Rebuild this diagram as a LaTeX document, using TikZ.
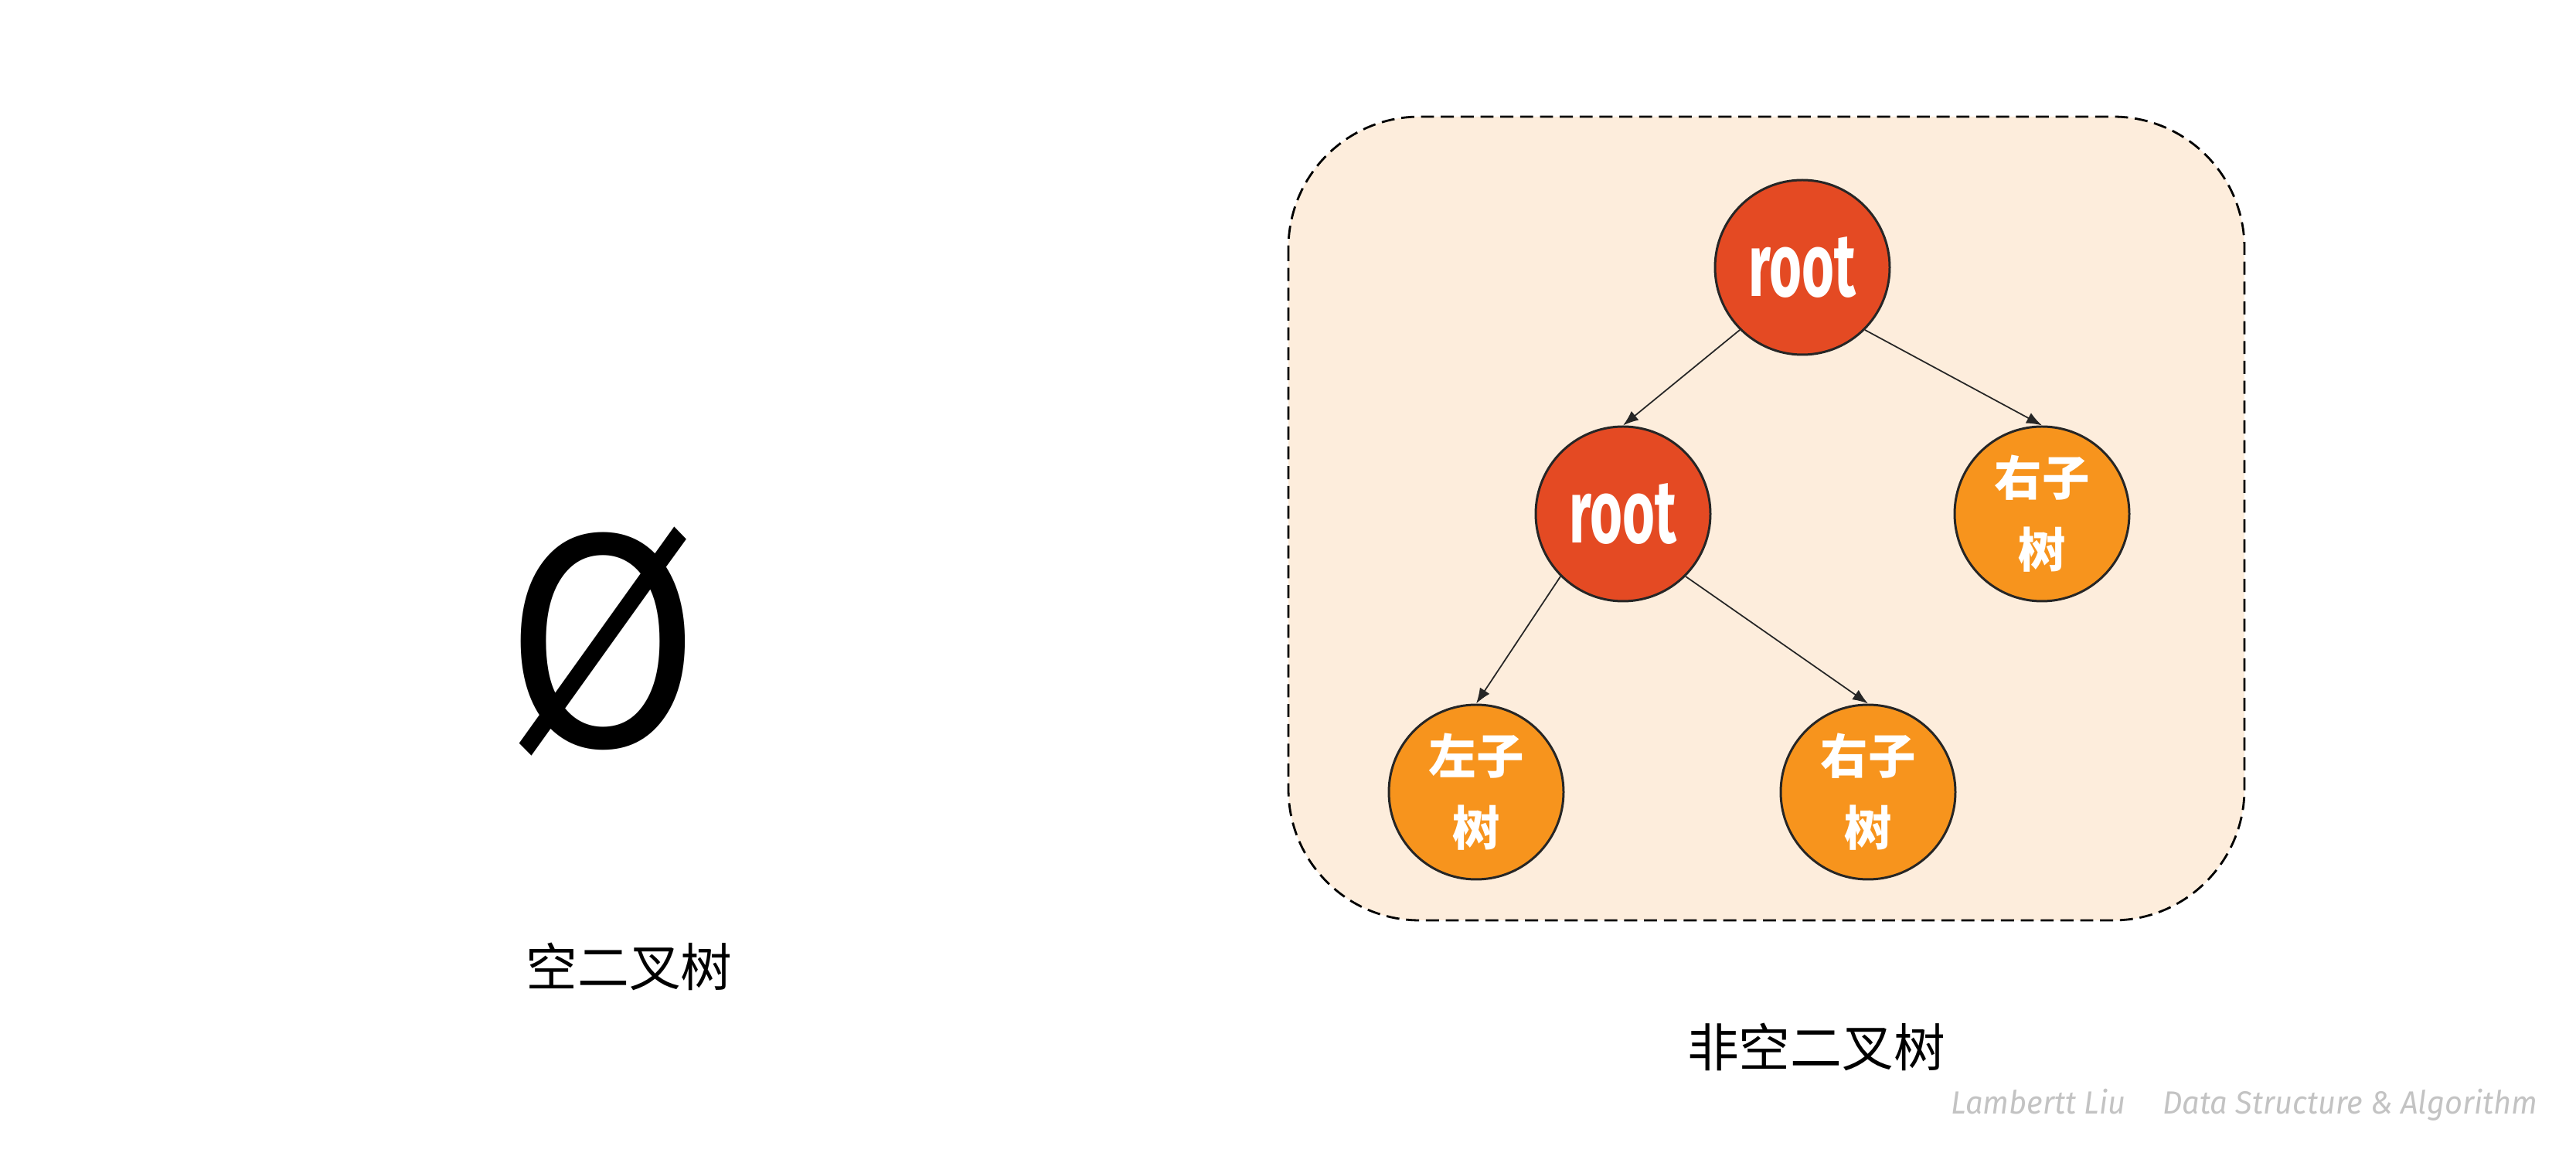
\documentclass[tikz,border=0pt]{standalone}
\usepackage{fontspec}
\usetikzlibrary{arrows.meta}
\newfontfamily\cjk{Noto Sans CJK SC}
\newfontfamily\rootfont[FakeStretch=0.62]{Fira Sans}
\newfontfamily\symfont{DejaVu Sans}
\newfontfamily\markfont[FakeStretch=0.96]{Fira Sans}
\definecolor{rootred}{RGB}{228,74,35}
\definecolor{leaforange}{RGB}{247,148,29}
\definecolor{boxfill}{RGB}{253,237,220}
\definecolor{markgray}{RGB}{195,195,195}

\begin{document}
\begin{tikzpicture}
  \tikzset{treenode/.style={circle,draw=black!85,line width=0.85pt,minimum size=2.26cm,inner sep=0pt}}
  \tikzset{rootnode/.style={treenode,fill=rootred,text=white,font=\rootfont\bfseries\fontsize{33}{33}\selectfont}}
  \tikzset{subnode/.style={treenode,fill=leaforange,text=white,align=center,font=\cjk\bfseries\fontsize{17.5}{26.5}\selectfont}}
  \tikzset{edge/.style={-{Latex[length=0.2cm,width=0.15cm]},line width=0.5pt,draw=black!85}}
  \tikzset{caption/.style={font=\cjk\fontsize{19}{19}\selectfont}}

  \useasboundingbox (0,0) rectangle (33.33,-15.05);
  \draw[dash pattern=on 4.8pt off 2.5pt,line width=0.8pt,fill=boxfill,rounded corners=1.7cm] (16.67,-1.51) rectangle (29.04,-11.91);

  \node[font=\symfont\fontsize{106}{106}\selectfont,inner sep=0pt] (empty) at (7.80,-8.30) {\scalebox{0.845}[1]{Ø}};
  \node[caption] (emptycap) at (8.14,-12.51) {空二叉树};

  \node[rootnode] (root) at (23.32,-3.46) {root};
  \node[rootnode] (lroot) at (21.00,-6.65) {root};
  \node[subnode] (rsub) at (26.42,-6.65) {右子\\树};
  \node[subnode] (lsub) at (19.10,-10.25) {左子\\树};
  \node[subnode] (rsub2) at (24.17,-10.25) {右子\\树};

  \draw[edge] (root.-135) -- (lroot.north);
  \draw[edge] (root.-45) -- (rsub.north);
  \draw[edge] (lroot.-135) -- (lsub.north);
  \draw[edge] (lroot.-45) -- (rsub2.north);

  \node[caption] (treecap) at (23.50,-13.55) {非空二叉树};
  \node[font=\markfont\itshape\fontsize{11.8}{11.8}\selectfont,text=markgray] (mark) at (29.04,-14.30) {Lambertt Liu\hspace{0.9em} Data Structure \& Algorithm};
\end{tikzpicture}
\end{document}
